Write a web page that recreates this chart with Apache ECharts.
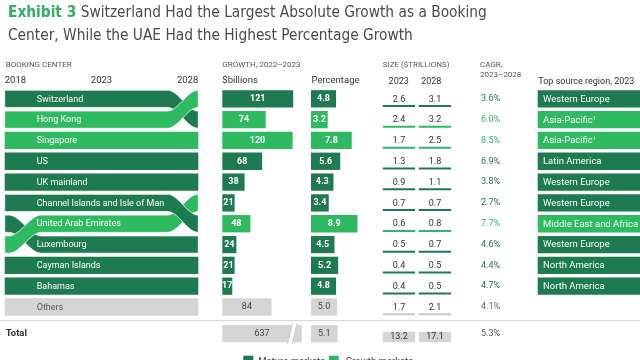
<!DOCTYPE html>
<html><head><meta charset="utf-8">
<script src="https://cdn.jsdelivr.net/npm/echarts@6/dist/echarts.min.js"></script>
<style>html,body{margin:0;padding:0;background:#fff}#c{width:640px;height:360px}</style>
</head><body><div id="c"></div>
<script>
// ---------------- DATA ----------------
const centers = ['Switzerland','Hong Kong','Singapore','US','UK mainland','Channel Islands and Isle of Man','United Arab Emirates','Luxembourg','Cayman Islands','Bahamas','Others'];
const market = ['M','G','G','M','M','M','G','M','M','M','O'];
const growthBn = [121,74,120,68,38,21,48,24,21,17,84];
const growthPct = [4.8,3.2,7.8,5.6,4.3,3.4,8.9,4.5,5.2,4.8,5.0];
const size2023 = [2.6,2.4,1.7,1.3,0.9,0.7,0.6,0.5,0.4,0.4,1.7];
const size2028 = [3.1,3.2,2.5,1.8,1.1,0.7,0.8,0.7,0.5,0.5,2.1];
const cagr = [3.6,6.0,8.5,6.9,3.8,2.7,7.7,4.6,4.4,4.7,4.1];
const regions = ['Western Europe','Asia-Pacific\u00B9','Asia-Pacific\u00B9','Latin America','Western Europe','Western Europe','Middle East and Africa','Western Europe','North America','North America'];
const rank2018 = [0,1,2,3,4,5,7,6,8,9,10];
const rank2023 = [0,1,2,3,4,5,6,7,8,9,10];
const rank2028 = [1,0,2,3,4,6,5,7,8,9,10];
const years = [2018,2023,2028];
const sizeYears = ['2023','2028'];
const totalBn = 637, totalPct = 5.1, totalSize2023 = 13.2, totalSize2028 = 17.1, totalCagr = 5.3;
const bnBreak = [115, 625];

// ---------------- STYLE ----------------
const FONT = 'Roboto, "Noto Sans", sans-serif';
const TFONT = '"Liberation Sans Narrow", "DejaVu Sans Condensed", Roboto, sans-serif';
const col = {M:'#1d7a51', G:'#2dba60', O:'#d5d5d5'};
const txt = {M:'#ffffff', G:'#ffffff', O:'#555555'};
const cagrCol = {M:'#2a6f50', G:'#2dba60', O:'#666666'};
const lineCol = {M:'#1d7a51', G:'#2dba60', O:'#c8c8c8'};
const ribbonLayer = [0,2,0,0,0,2,1,0,0,0,0];
const ROW_TOP = 88.4, ROW_H = 20.82, N = centers.length, GRID_H = ROW_H * N;
const TOT_TOP = 333.7 - ROW_H / 2;
const BAR_H = 17.3;
const EASE_L0 = 0.2, EASE_L1 = 1.9, EASE_R0 = 1.6;

const chart = echarts.init(document.getElementById('c'));

const g = (o) => Object.assign({outerBoundsMode:'none', containLabel:false}, o);
const grids = [
  g({left:4.7, width:193.6, top:ROW_TOP, height:GRID_H}),
  g({left:222.3, width:117.2, top:ROW_TOP, height:GRID_H}),
  g({left:311, width:52.2, top:ROW_TOP, height:GRID_H}),
  g({left:381, width:72, top:ROW_TOP, height:GRID_H}),
  g({left:481, width:40, top:ROW_TOP, height:GRID_H}),
  g({left:537.7, width:102.3, top:ROW_TOP, height:GRID_H}),
  g({left:222.3, width:93, top:TOT_TOP, height:ROW_H}),
  g({left:311, width:52.2, top:TOT_TOP, height:ROW_H}),
  g({left:381, width:72, top:TOT_TOP, height:ROW_H}),
  g({left:481, width:40, top:TOT_TOP, height:ROW_H})
];
const hid = {show:false};
const vx = (gi, min, max) => ({gridIndex:gi, type:'value', min, max, show:false});
const xAxes = [
  {gridIndex:0, type:'value', min:years[0], max:years[2], interval:5, position:'top',
   axisLine:hid, axisTick:hid, splitLine:hid,
   axisLabel:{show:true, margin:3, fontSize:9.5, color:'#333', fontFamily:FONT, alignMinLabel:'left', alignMaxLabel:'right', formatter:(v)=>String(v)}},
  vx(1,0,200), vx(2,0,10),
  {gridIndex:3, type:'category', data:sizeYears, show:false},
  vx(4,0,1), vx(5,0,1),
  {gridIndex:6, type:'value', min:0, max:660, axisLine:hid, axisTick:hid, splitLine:hid, axisLabel:hid,
   breaks:[{start:bnBreak[0], end:bnBreak[1], gap:'5%'}],
   breakArea:{show:false}},
  vx(7,0,10),
  {gridIndex:8, type:'category', data:sizeYears, show:false},
  vx(9,0,1)
];
const yAxes = [{gridIndex:0, type:'value', min:-0.5, max:N-0.5, inverse:true, show:false}];
for (let i=1;i<=5;i++) yAxes.push({gridIndex:i, type:'category', data:centers, inverse:true, show:false});
for (let i=6;i<=9;i++) yAxes.push({gridIndex:i, type:'category', data:['Total'], inverse:true, show:false});

function ease(t){return (1-Math.cos(Math.PI*t))/2;}

const series = [];
// ribbons
series.push({
  type:'custom', xAxisIndex:0, yAxisIndex:0,
  data: centers.map((n,i)=>[rank2018[i], rank2023[i], rank2028[i]]),
  encode:{x:[], y:[0,1,2]},
  renderItem:(params, api)=>{
    const i = params.dataIndex;
    const r = [api.value(0), api.value(1), api.value(2)];
    const keys = [[years[0], r[0]],[years[0]+EASE_L0, r[0]],[years[0]+EASE_L1, r[1]],[years[2]-EASE_R0, r[1]],[years[2], r[2]]];
    const pts = [];
    for (let k=0;k<keys.length-1;k++){
      const [xa,ya]=keys[k], [xb,yb]=keys[k+1];
      const n = ya===yb ? 1 : 28;
      for (let s=(k===0?0:1); s<=n; s++){
        const t=s/n; pts.push([xa+(xb-xa)*t, ya+(yb-ya)*ease(t)]);
      }
    }
    const h = BAR_H/2;
    const topE = pts.map(p=>{const c=api.coord(p); return [c[0], c[1]-h];});
    const botE = pts.map(p=>{const c=api.coord(p); return [c[0], c[1]+h];}).reverse();
    const mk = market[i];
    const lx = api.coord([years[0], 0])[0] + 32;
    const ly = api.coord([years[0], r[1]])[1];
    return {type:'group', children:[
      {type:'polygon', z2:ribbonLayer[i], shape:{points:topE.concat(botE)}, style:{fill:col[mk], stroke: (r[0]!==r[1]||r[1]!==r[2]) ? '#fff' : null, lineWidth:0.8}},
      {type:'text', z2:20, x:lx, y:ly+0.5, style:{text:centers[i], fill:txt[mk], font:'9px '+FONT, verticalAlign:'middle', align:'left'}}
    ]};
  }
});
const barLabel = {show:true, position:'inside', fontSize:9, fontWeight:'bold', fontFamily:FONT};
series.push({
  type:'bar', xAxisIndex:1, yAxisIndex:1, barWidth:BAR_H,
  data: growthBn.map((v,i)=>({value:v, itemStyle:{color:col[market[i]]}, label:{color: market[i]==='O'?'#444':'#fff', fontWeight: market[i]==='O'?'normal':'bold'}})),
  label: barLabel
});
series.push({
  type:'bar', xAxisIndex:2, yAxisIndex:2, barWidth:BAR_H,
  data: growthPct.map((v,i)=>({value:v, itemStyle:{color:col[market[i]]}, label:{color: market[i]==='O'?'#444':'#fff', fontWeight: market[i]==='O'?'normal':'bold'}})),
  label: Object.assign({}, barLabel, {formatter:(p)=>p.value.toFixed(1)})
});
// size
const sizeData = [];
centers.forEach((n,i)=>{ sizeData.push([0,i,size2023[i]]); sizeData.push([1,i,size2028[i]]); });
series.push({
  type:'custom', xAxisIndex:3, yAxisIndex:3, data:sizeData,
  renderItem:(params, api)=>{
    const c = api.coord([api.value(0), api.value(1)]);
    const mk = market[api.value(1)];
    return {type:'group', children:[
      {type:'rect', shape:{x:c[0]-16.2, y:c[1]+6.2, width:32.3, height:2}, style:{fill:lineCol[mk]}},
      {type:'text', x:c[0], y:c[1]+0.5, style:{text:api.value(2).toFixed(1), fill:'#333', font:'9px '+FONT, align:'center', verticalAlign:'middle'}}
    ]};
  }
});
// cagr
series.push({
  type:'custom', xAxisIndex:4, yAxisIndex:4, data:cagr.map((v,i)=>[0,i,v]),
  renderItem:(params, api)=>{
    const c = api.coord([0, api.value(1)]);
    const mk = market[api.value(1)];
    return {type:'text', x:c[0], y:c[1], style:{text:api.value(2).toFixed(1)+'%', fill:cagrCol[mk], font:'9px '+FONT, align:'left', verticalAlign:'middle'}};
  }
});
// region
series.push({
  type:'custom', xAxisIndex:5, yAxisIndex:5, data:regions.map((r,i)=>[0,i]),
  renderItem:(params, api)=>{
    const i = params.dataIndex;
    const c = api.coord([0, api.value(1)]);
    const cs = params.coordSys;
    return {type:'group', children:[
      {type:'rect', shape:{x:cs.x, y:c[1]-BAR_H/2, width:cs.width, height:BAR_H}, style:{fill:col[market[i]]}},
      {type:'text', x:cs.x+5.3, y:c[1]+0.5, style:{text:regions[i], fill:'#fff', font:'9.5px '+FONT, align:'left', verticalAlign:'middle'}}
    ]};
  }
});
// totals
series.push({
  type:'bar', xAxisIndex:6, yAxisIndex:6, barWidth:BAR_H,
  data:[{value:totalBn, itemStyle:{color:col.O}}],
  label:Object.assign({}, barLabel, {color:'#444', fontWeight:'normal'})
});
series.push({
  type:'bar', xAxisIndex:7, yAxisIndex:7, barWidth:BAR_H,
  data:[{value:totalPct, itemStyle:{color:col.O}}],
  label:Object.assign({}, barLabel, {color:'#444', fontWeight:'normal', formatter:(p)=>p.value.toFixed(1)})
});
series.push({
  type:'custom', xAxisIndex:8, yAxisIndex:8, data:[[0,0,totalSize2023],[1,0,totalSize2028]],
  renderItem:(params, api)=>{
    const c = api.coord([api.value(0), api.value(1)]);
    return {type:'group', children:[
      {type:'rect', shape:{x:c[0]-16.2, y:c[1]-2, width:32.3, height:10.6}, style:{fill:col.O}},
      {type:'text', x:c[0], y:c[1]+3.3, style:{text:api.value(2).toFixed(1), fill:'#333', font:'9px '+FONT, align:'center', verticalAlign:'middle'}}
    ]};
  }
});
series.push({
  type:'custom', xAxisIndex:9, yAxisIndex:9, data:[[0,0,totalCagr]],
  renderItem:(params, api)=>{
    const c = api.coord([0, api.value(1)]);
    return {type:'text', x:c[0], y:c[1], style:{text:api.value(2).toFixed(1)+'%', fill:'#555', font:'9px '+FONT, align:'left', verticalAlign:'middle'}};
  }
});

const T = (text, x, y, o) => Object.assign({type:'text', x, y, style:Object.assign({text, fill:'#555', font:'8px '+FONT, verticalAlign:'middle', align:'left'}, o||{})});
const graphic = [
  T('BOOKING CENTER', 5.7, 65),
  T('GROWTH, 2022\u20132023', 222.3, 65),
  T('$billions', 222.3, 81, {fill:'#333', font:'9.5px '+FONT}),
  T('Percentage', 311.5, 81, {fill:'#333', font:'9.5px '+FONT}),
  T('SIZE ($TRILLIONS)', 382.7, 65),
  T(sizeYears[0], 398.7, 82, {fill:'#333', font:'9px '+FONT, align:'center'}),
  T(sizeYears[1], 431.3, 82, {fill:'#333', font:'9px '+FONT, align:'center'}),
  T('CAGR,', 480, 65),
  T('2023\u20132028', 480, 74.5),
  T('Top source region, 2023', 538.3, 82, {fill:'#333', font:'9px '+FONT}),
  T('Total', 5.7, 334, {fill:'#333', font:'bold 9.5px '+FONT}),
  {type:'line', shape:{x1:0, y1:320.7, x2:640, y2:320.7}, style:{stroke:'#d0d0d0', lineWidth:1}},
  {type:'rect', shape:{x:243.3, y:355.7, width:10, height:10}, style:{fill:col.M}},
  T('Mature markets', 258.3, 361.5, {fill:'#444', font:'9.5px '+FONT}),
  {type:'rect', shape:{x:328.8, y:355.7, width:10, height:10}, style:{fill:col.G}},
  T('Growth markets', 345.7, 361.5, {fill:'#444', font:'9.5px '+FONT})
];

chart.setOption({
  animation:false,
  title:{
    left:3, top:-3,
    text:'{a|Exhibit 3} Switzerland Had the Largest Absolute Growth as a Booking\nCenter, While the UAE Had the Highest Percentage Growth',
    textStyle:{fontSize:15.3, fontWeight:'normal', color:'#4a4a4a', fontFamily:TFONT, lineHeight:23,
      rich:{a:{fontSize:15.3, fontWeight:'bold', color:'#32ad62', fontFamily:TFONT, lineHeight:23}}}
  },
  grid:grids, xAxis:xAxes, yAxis:yAxes, series, graphic
});

// slanted break mark on the Total bar, placed at the axis break via the axis scale
const bx0 = chart.convertToPixel({xAxisIndex:6}, bnBreak[0]);
const bx1 = chart.convertToPixel({xAxisIndex:6}, bnBreak[1]);
const yTop = TOT_TOP + (ROW_H - BAR_H)/2 - 2, yBot = yTop + BAR_H + 4;
const sl = 2.5;
chart.setOption({graphic: graphic.concat([
  {type:'polygon', z:100, shape:{points:[[bx0+sl,yTop],[bx1+sl,yTop],[bx1-sl,yBot],[bx0-sl,yBot]]}, style:{fill:'#fff'}},
  {type:'line', z:101, shape:{x1:bx0+sl, y1:yTop, x2:bx0-sl, y2:yBot}, style:{stroke:'#c4c4c4', lineWidth:0.8}},
  {type:'line', z:101, shape:{x1:bx1+sl, y1:yTop, x2:bx1-sl, y2:yBot}, style:{stroke:'#c4c4c4', lineWidth:0.8}}
])});
</script></body></html>
